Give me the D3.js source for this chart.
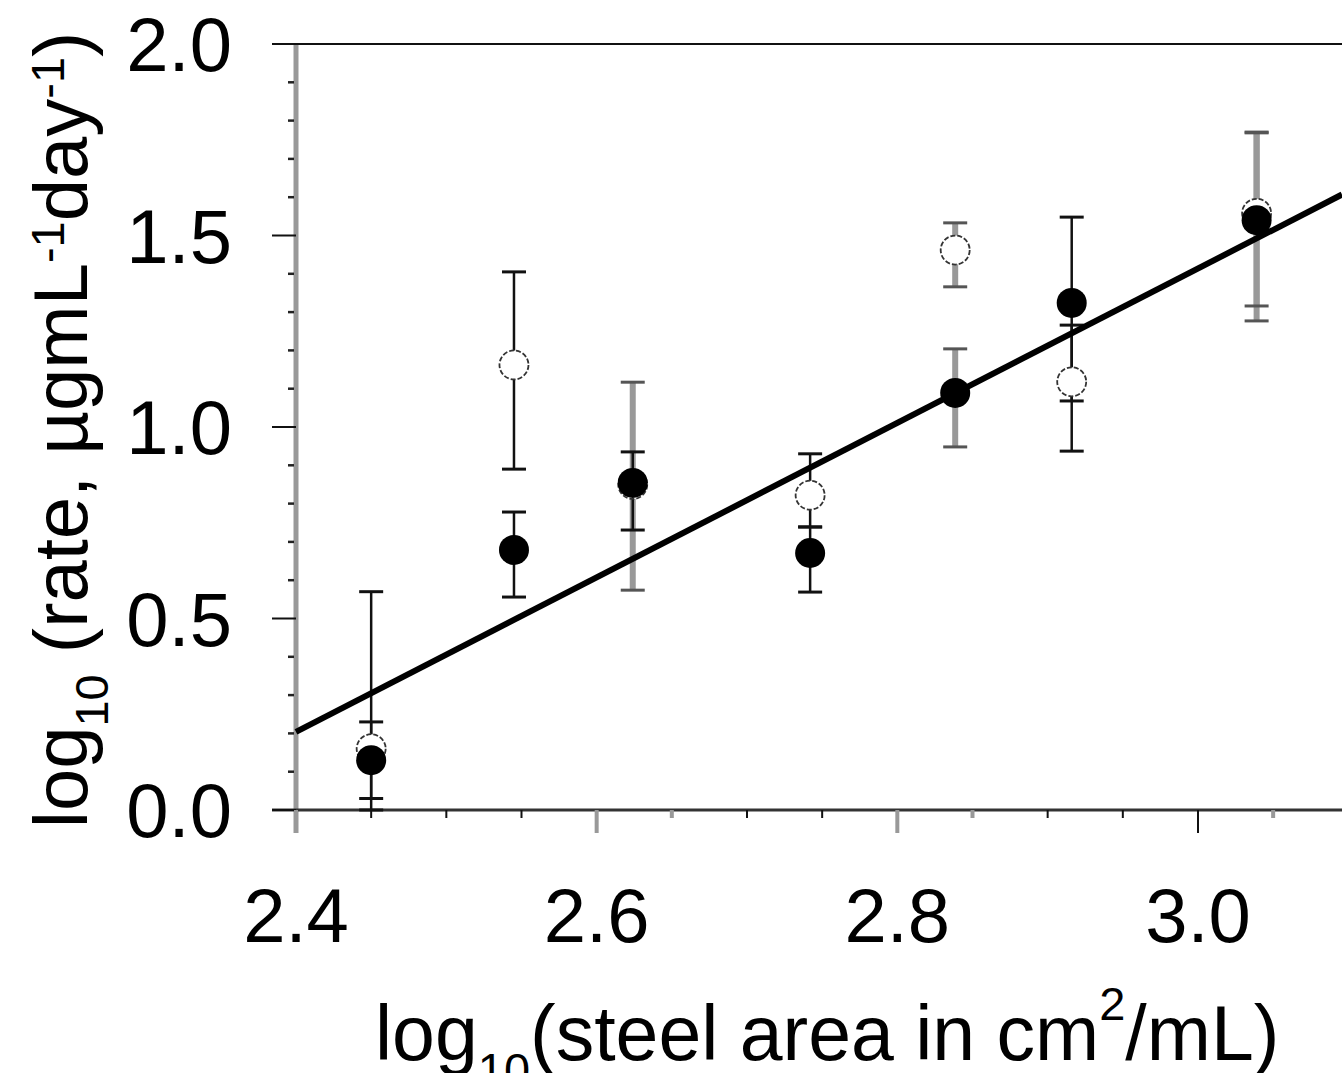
<!DOCTYPE html>
<html>
<head>
<meta charset="utf-8">
<script src="https://cdn.jsdelivr.net/npm/d3@7"></script>
<style>
  html, body { margin: 0; padding: 0; background: #fff; }
  svg { display: block; }
  text { font-family: "Liberation Sans", Arial, Helvetica, sans-serif; fill: #000; }
</style>
</head>
<body>
<svg id="chart" width="1342" height="1073"></svg>
<script>
// x positions (log10 steel area) shared by both series
const areaX = [2.45, 2.545, 2.624, 2.742, 2.8385, 2.916, 3.039];

// open circles
const openY  = [0.16, 1.162, 0.85, 0.822, 1.462, 1.118, 1.558];
const openLo = [0.0, 0.89, 0.574, 0.739, 1.366, 0.937, 1.277];
const openHi = [0.57, 1.405, 1.117, 0.93, 1.533, 1.266, 1.77];

// filled circles
const filledY  = [0.13, 0.679, 0.854, 0.671, 1.089, 1.324, 1.54];
const filledLo = [0.03, 0.556, 0.731, 0.569, 0.948, 1.068, 1.316];
const filledHi = [0.23, 0.778, 0.935, 0.739, 1.204, 1.548, 1.768];

// fitted regression line, end points
const fitX = [2.4, 3.0958];
const fitY = [0.204, 1.607];

// ticks
const xMajor = [2.4, 2.6, 2.8, 3.0];
const xMinor = [2.45, 2.5, 2.55, 2.65, 2.7, 2.75, 2.85, 2.9, 2.95, 3.05];
const yMajor = [0.0, 0.5, 1.0, 1.5, 2.0];
const yMinor = [0.1, 0.2, 0.3, 0.4, 0.6, 0.7, 0.8, 0.9, 1.1, 1.2, 1.3, 1.4, 1.6, 1.7, 1.8, 1.9];

const svg = d3.select("#chart");

const x = d3.scaleLinear().domain([2.4, 3.0958]).range([296, 1342]);
const y = d3.scaleLinear().domain([0, 2]).range([810, 44]);

// bars that look grey/thick in the original (by index)
const greyOpen = new Set([2, 4, 6]);
const greyFilled = new Set([4, 6]);
// ticks that look grey
const greyXTicks = new Set([2.4, 2.6, 2.8, 2.65, 2.85, 3.05]);

// ---- axes ----
// grey left axis line
svg.append("line")
  .attr("x1", x(2.4)).attr("x2", x(2.4))
  .attr("y1", y(2.0)).attr("y2", y(0) + 23)
  .attr("stroke", "#999").attr("stroke-width", 5);

// top frame line at 2.0
svg.append("line")
  .attr("x1", 272).attr("x2", 1342)
  .attr("y1", y(2.0)).attr("y2", y(2.0))
  .attr("stroke", "#111").attr("stroke-width", 2);

// bottom axis line
svg.append("line")
  .attr("x1", 272).attr("x2", 1342)
  .attr("y1", y(0)).attr("y2", y(0))
  .attr("stroke", "#333").attr("stroke-width", 3);

// y major ticks
svg.append("g").selectAll("line")
  .data(yMajor)
  .join("line")
    .attr("x1", 272).attr("x2", x(2.4))
    .attr("y1", d => y(d)).attr("y2", d => y(d))
    .attr("stroke", "#111").attr("stroke-width", 2);

// y minor ticks
svg.append("g").selectAll("line")
  .data(yMinor)
  .join("line")
    .attr("x1", x(2.4) - 8).attr("x2", x(2.4) - 2)
    .attr("y1", d => y(d)).attr("y2", d => y(d))
    .attr("stroke", "#222").attr("stroke-width", 2.5);

// x major ticks
svg.append("g").selectAll("line")
  .data(xMajor)
  .join("line")
    .attr("x1", d => x(d)).attr("x2", d => x(d))
    .attr("y1", y(0)).attr("y2", y(0) + 23)
    .attr("stroke", d => greyXTicks.has(d) ? "#999" : "#111")
    .attr("stroke-width", d => greyXTicks.has(d) ? 4 : 2);

// x minor ticks
svg.append("g").selectAll("line")
  .data(xMinor)
  .join("line")
    .attr("x1", d => x(d)).attr("x2", d => x(d))
    .attr("y1", y(0)).attr("y2", y(0) + 8)
    .attr("stroke", d => greyXTicks.has(d) ? "#999" : "#111")
    .attr("stroke-width", d => greyXTicks.has(d) ? 4 : 2);

// y tick labels
svg.append("g").selectAll("text")
  .data(yMajor)
  .join("text")
    .attr("x", 232)
    .attr("y", d => y(d) + 27)
    .attr("text-anchor", "end")
    .attr("font-size", 76)
    .text(d => d.toFixed(1));

// x tick labels
svg.append("g").selectAll("text")
  .data(xMajor)
  .join("text")
    .attr("x", d => x(d))
    .attr("y", 942)
    .attr("text-anchor", "middle")
    .attr("font-size", 76)
    .text(d => d.toFixed(1));

// ---- axis titles ----
const xt = svg.append("text")
  .attr("x", 375).attr("y", 1060)
  .attr("font-size", 77);
xt.append("tspan").text("log");
xt.append("tspan").attr("font-size", 47).attr("dy", 26).text("10");
xt.append("tspan").attr("dy", -26).text("(steel area in cm");
xt.append("tspan").attr("font-size", 47).attr("dy", -40).text("2");
xt.append("tspan").attr("dy", 40).text("/mL)");

const yt = svg.append("text")
  .attr("transform", "translate(87,828) rotate(-90)")
  .attr("font-size", 76);
yt.append("tspan").text("log");
yt.append("tspan").attr("font-size", 47).attr("dy", 21).text("10");
yt.append("tspan").attr("dy", -21).text(" (rate, µgmL");
yt.append("tspan").attr("font-size", 47).attr("dy", -23).text("-1");
yt.append("tspan").attr("dy", 23).text("day");
yt.append("tspan").attr("font-size", 47).attr("dy", -23).text("-1");
yt.append("tspan").attr("dy", 23).text(")");

// ---- error bars ----
function drawBars(cls, ys, lo, hi, greySet) {
  const rows = areaX.map((d, i) => ({ x: d, y: ys[i], lo: lo[i], hi: hi[i], grey: greySet.has(i) }));
  const g = svg.append("g").attr("class", cls);
  g.selectAll("line.stem")
    .data(rows)
    .join("line")
      .attr("class", "stem")
      .attr("x1", d => x(d.x)).attr("x2", d => x(d.x))
      .attr("y1", d => y(d.lo)).attr("y2", d => y(d.hi))
      .attr("stroke", d => d.grey ? "#999" : "#111")
      .attr("stroke-width", d => d.grey ? 6 : 2.5);
  ["lo", "hi"].forEach(k => {
    g.selectAll("line.cap-" + k)
      .data(rows)
      .join("line")
        .attr("class", "cap-" + k)
        .attr("x1", d => x(d.x) - 12).attr("x2", d => x(d.x) + 12)
        .attr("y1", d => y(d[k])).attr("y2", d => y(d[k]))
        .attr("stroke", d => d.grey ? "#555" : "#111")
        .attr("stroke-width", 3);
  });
}
drawBars("bars-open", openY, openLo, openHi, greyOpen);
drawBars("bars-filled", filledY, filledLo, filledHi, greyFilled);

// ---- fit line ----
svg.append("path")
  .datum(fitX.map((d, i) => [d, fitY[i]]))
  .attr("d", d3.line().x(d => x(d[0])).y(d => y(d[1])))
  .attr("fill", "none")
  .attr("stroke", "#000")
  .attr("stroke-width", 6);

// ---- points ----
svg.append("g").selectAll("circle")
  .data(areaX.map((d, i) => [d, openY[i]]))
  .join("circle")
    .attr("cx", d => x(d[0])).attr("cy", d => y(d[1]))
    .attr("r", 14.5)
    .attr("fill", "#fff")
    .attr("stroke", "#333")
    .attr("stroke-width", 1.8)
    .attr("stroke-dasharray", "5 2");

svg.append("g").selectAll("circle")
  .data(areaX.map((d, i) => [d, filledY[i]]))
  .join("circle")
    .attr("cx", d => x(d[0])).attr("cy", d => y(d[1]))
    .attr("r", 15)
    .attr("fill", "#000");
</script>
</body>
</html>
